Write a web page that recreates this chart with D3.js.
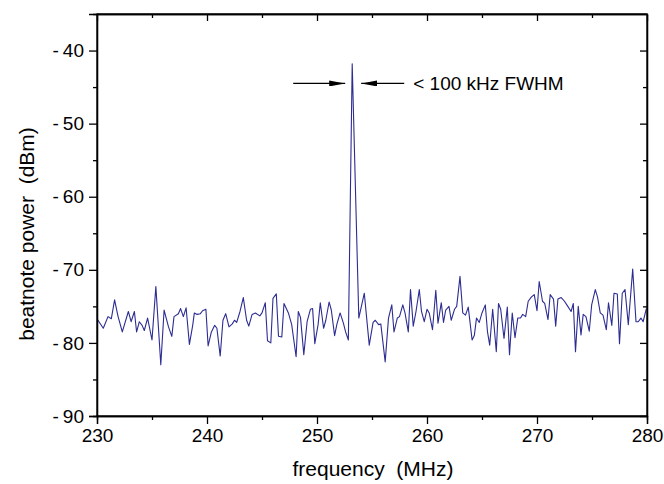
<!DOCTYPE html>
<html>
<head>
<meta charset="utf-8">
<script src="https://cdn.jsdelivr.net/npm/d3@7"></script>
<style>
  body { margin: 0; background: #fff; }
  svg { font-family: "Liberation Sans", Arial, sans-serif; }
  text { white-space: pre; }
</style>
</head>
<body>
<svg id="chart"></svg>
<script>
// beatnote spectrum, values

var freqMHz = [
  230.0, 230.57, 231.0, 231.3, 231.6, 231.9, 232.3, 232.85, 233.1, 233.4,
  233.6, 233.85, 234.1, 234.3, 234.6, 235.0, 235.35, 235.8, 236.1, 236.5,
  236.8, 237.0, 237.4, 237.6, 237.85, 238.1, 238.4, 238.7, 238.85, 239.1,
  239.4, 239.6, 239.9, 240.1, 240.4, 240.7, 240.9, 241.2, 241.45, 241.7,
  242.0, 242.3, 242.5, 242.7, 243.0, 243.3, 243.6, 243.8, 244.1, 244.4,
  244.8, 245.0, 245.3, 245.5, 245.8, 246.0, 246.3, 246.5, 246.8, 247.0,
  247.4, 247.7, 248.1, 248.3, 248.5, 248.8, 249.1, 249.4, 249.6, 249.8,
  250.1, 250.3, 250.6, 250.8, 251.1, 251.3, 251.6, 251.8, 252.1, 252.4,
  252.6, 252.85, 253.2, 253.8, 254.3, 254.75, 255.1, 255.3, 255.6, 255.8,
  256.2, 256.5, 256.8, 257.0, 257.3, 257.5, 257.8, 258.0, 258.3, 258.5,
  258.75, 259.0, 259.3, 259.5, 259.75, 260.0, 260.2, 260.5, 260.8, 261.0,
  261.3, 261.5, 261.7, 262.0, 262.2, 262.5, 262.7, 263.0, 263.25, 263.5,
  263.75, 264.1, 264.3, 264.5, 264.75, 265.0, 265.3, 265.5, 265.7, 265.97,
  266.3, 266.5, 266.7, 267.0, 267.3, 267.5, 267.75, 268.0, 268.25, 268.5,
  268.7, 268.97, 269.2, 269.5, 269.75, 270.0, 270.2, 270.5, 270.7, 271.0,
  271.2, 271.5, 271.7, 271.9, 272.2, 272.5, 272.8, 273.1, 273.3, 273.5,
  273.75, 274.0, 274.2, 274.45, 274.75, 274.97, 275.3, 275.5, 275.75, 276.0,
  276.3, 276.5, 276.8, 277.0, 277.3, 277.5, 277.75, 278.0, 278.3, 278.5,
  278.7, 279.0, 279.2, 279.45, 279.65, 279.94
];

var powerDBm = [
  -76.7, -78.0, -76.4, -76.7, -74.1, -76.3, -78.5, -75.7, -77.1, -75.7,
  -78.5, -77.1, -77.6, -78.3, -76.6, -79.6, -72.3, -83.0, -75.5, -77.8,
  -79.1, -76.4, -76.0, -75.3, -76.4, -75.2, -80.2, -77.6, -75.9, -76.1,
  -76.0, -75.6, -75.4, -80.4, -78.5, -77.6, -78.0, -81.8, -76.9, -76.0,
  -77.8, -77.4, -76.9, -77.2, -75.7, -73.8, -76.9, -77.7, -76.1, -75.9,
  -76.3, -75.9, -74.5, -79.7, -80.0, -73.9, -73.3, -79.1, -79.2, -74.6,
  -75.9, -77.5, -81.9, -75.7, -76.5, -81.6, -77.1, -75.4, -75.3, -80.1,
  -77.5, -74.5, -78.0, -76.9, -74.4, -75.5, -79.0, -77.5, -75.9, -77.3,
  -78.5, -79.6, -41.8, -76.6, -73.2, -80.3, -77.2, -76.9, -77.5, -77.4,
  -82.6, -76.6, -74.8, -78.5, -76.6, -76.4, -74.8, -75.9, -78.5, -72.7,
  -77.7, -75.7, -72.7, -75.7, -77.1, -75.4, -75.9, -78.2, -72.8, -77.3,
  -74.5, -77.2, -75.5, -75.0, -76.9, -75.4, -75.0, -70.9, -75.9, -76.2,
  -75.1, -79.6, -79.0, -76.6, -77.2, -75.9, -74.8, -78.5, -80.3, -75.4,
  -81.2, -74.6, -75.4, -79.4, -75.1, -81.6, -75.9, -79.3, -76.6, -76.6,
  -76.1, -76.4, -74.3, -73.7, -73.4, -75.6, -71.6, -74.3, -74.6, -76.8,
  -73.4, -74.0, -77.7, -74.0, -73.8, -74.3, -75.0, -75.7, -74.6, -81.2,
  -75.0, -78.9, -76.1, -76.4, -78.4, -74.8, -72.7, -73.7, -75.9, -76.2,
  -78.2, -74.5, -77.6, -73.2, -73.3, -80.1, -73.2, -72.7, -77.5, -73.7,
  -69.9, -77.1, -77.1, -76.6, -77.1, -75.3
];

var xMajorTicks = [230, 240, 250, 260, 270, 280];
var xMinorTicks = [235, 245, 255, 265, 275];
var yMajorTicks = [-90, -80, -70, -60, -50, -40];
var yMinorTicks = [-85, -75, -65, -55, -45];

var xLabel = 'frequency  (MHz)';
var yLabel = 'beatnote power  (dBm)';
var noteText = '< 100 kHz FWHM';

// plot box (names avoid window.top etc.)
var W = 664, H = 484;
var pLeft = 97, pRight = 647, pTop = 14, pBottom = 416;
var lineColor = '#2c2c92';

var svg = d3.select('#chart').attr('width', W).attr('height', H);

var xScale = d3.scaleLinear().domain([230, 280]).range([pLeft, pRight]);
var yScale = d3.scaleLinear().domain([-90, -35]).range([pBottom, pTop]);

// data trace
var points = freqMHz.map((f, i) => ({x: f, y: powerDBm[i]}));
var dataLine = d3.line().x(d => xScale(d.x)).y(d => yScale(d.y));

svg.append('clipPath').attr('id', 'clipBox')
   .append('rect').attr('x', pLeft).attr('y', pTop)
   .attr('width', pRight - pLeft).attr('height', pBottom - pTop);

svg.append('path')
   .attr('d', dataLine(points))
   .attr('fill', 'none')
   .attr('stroke', lineColor)
   .attr('stroke-width', 1.1)
   .attr('stroke-linejoin', 'round')
   .attr('clip-path', 'url(#clipBox)');

// axes: bottom and left outward, top and right inward
svg.append('g').attr('transform', `translate(0,${pBottom})`)
   .call(d3.axisBottom(xScale).tickValues(xMajorTicks).tickSize(8).tickPadding(5).tickFormat(d => d));
svg.append('g').attr('transform', `translate(0,${pBottom})`)
   .call(d3.axisBottom(xScale).tickValues(xMinorTicks).tickSize(4).tickFormat(''));

var yAxisG = svg.append('g').attr('transform', `translate(${pLeft},0)`)
   .call(d3.axisLeft(yScale).tickValues(yMajorTicks).tickSize(8).tickPadding(5).tickFormat(d => d));
svg.append('g').attr('transform', `translate(${pLeft},0)`)
   .call(d3.axisLeft(yScale).tickValues(yMinorTicks).tickSize(4).tickFormat(''));

svg.append('g').attr('transform', `translate(0,${pTop})`)
   .call(d3.axisBottom(xScale).tickValues(xMajorTicks).tickSizeInner(7).tickSizeOuter(0).tickFormat(''));
svg.append('g').attr('transform', `translate(0,${pTop})`)
   .call(d3.axisBottom(xScale).tickValues(xMinorTicks).tickSizeInner(4).tickSizeOuter(0).tickFormat(''));

svg.append('g').attr('transform', `translate(${pRight},0)`)
   .call(d3.axisLeft(yScale).tickValues(yMajorTicks).tickSizeInner(7).tickSizeOuter(0).tickFormat(''));
svg.append('g').attr('transform', `translate(${pRight},0)`)
   .call(d3.axisLeft(yScale).tickValues(yMinorTicks).tickSizeInner(4).tickSizeOuter(0).tickFormat(''));

svg.selectAll('.domain').attr('stroke', '#000').attr('stroke-width', 1.3);
svg.selectAll('.tick line').attr('stroke', '#000').attr('stroke-width', 1.3);
svg.selectAll('.tick text').style('font-size', '19px').attr('fill', '#000')
   .style('font-family', '"Liberation Sans", Arial, sans-serif');

// the reference shows a small gap between the minus sign and the digits
yAxisG.selectAll('.tick text').each(function(d){
    var t = d3.select(this);
    t.text('');
    t.append('tspan').text('-');
    t.append('tspan').attr('dx', 4).text(Math.abs(d));
});

// frame (top and right edges)
svg.append('rect')
   .attr('x', pLeft).attr('y', pTop)
   .attr('width', pRight - pLeft).attr('height', pBottom - pTop)
   .attr('fill', 'none').attr('stroke', '#000').attr('stroke-width', 1.3);

// axis titles
svg.append('text')
   .attr('x', 373).attr('y', 476)
   .attr('text-anchor', 'middle')
   .style('font-size', '21px')
   .text(xLabel);

svg.append('text')
   .attr('transform', 'translate(34,234) rotate(-90)')
   .attr('text-anchor', 'middle')
   .style('font-size', '21px')
   .text(yLabel);

// annotation arrows around the peak
var peakX = xScale(253.2);
var arrowY = yScale(-44.5);

var defs = svg.append('defs');
defs.append('marker')
   .attr('id', 'head')
   .attr('viewBox', '0 0 16 6')
   .attr('refX', 16).attr('refY', 3)
   .attr('markerWidth', 16).attr('markerHeight', 6)
   .attr('markerUnits', 'userSpaceOnUse')
   .attr('orient', 'auto')
   .append('path').attr('d', 'M0,0 L16,3 L0,6 Z').attr('fill', '#000');

svg.append('line')
   .attr('x1', peakX - 59).attr('y1', arrowY)
   .attr('x2', peakX - 7).attr('y2', arrowY)
   .attr('stroke', '#000').attr('stroke-width', 1.3)
   .attr('marker-end', 'url(#head)');

svg.append('line')
   .attr('x1', peakX + 52).attr('y1', arrowY)
   .attr('x2', peakX + 9).attr('y2', arrowY)
   .attr('stroke', '#000').attr('stroke-width', 1.3)
   .attr('marker-end', 'url(#head)');

svg.append('text')
   .attr('x', peakX + 61).attr('y', arrowY + 7)
   .style('font-size', '19px')
   .text(noteText);
</script>
</body>
</html>
